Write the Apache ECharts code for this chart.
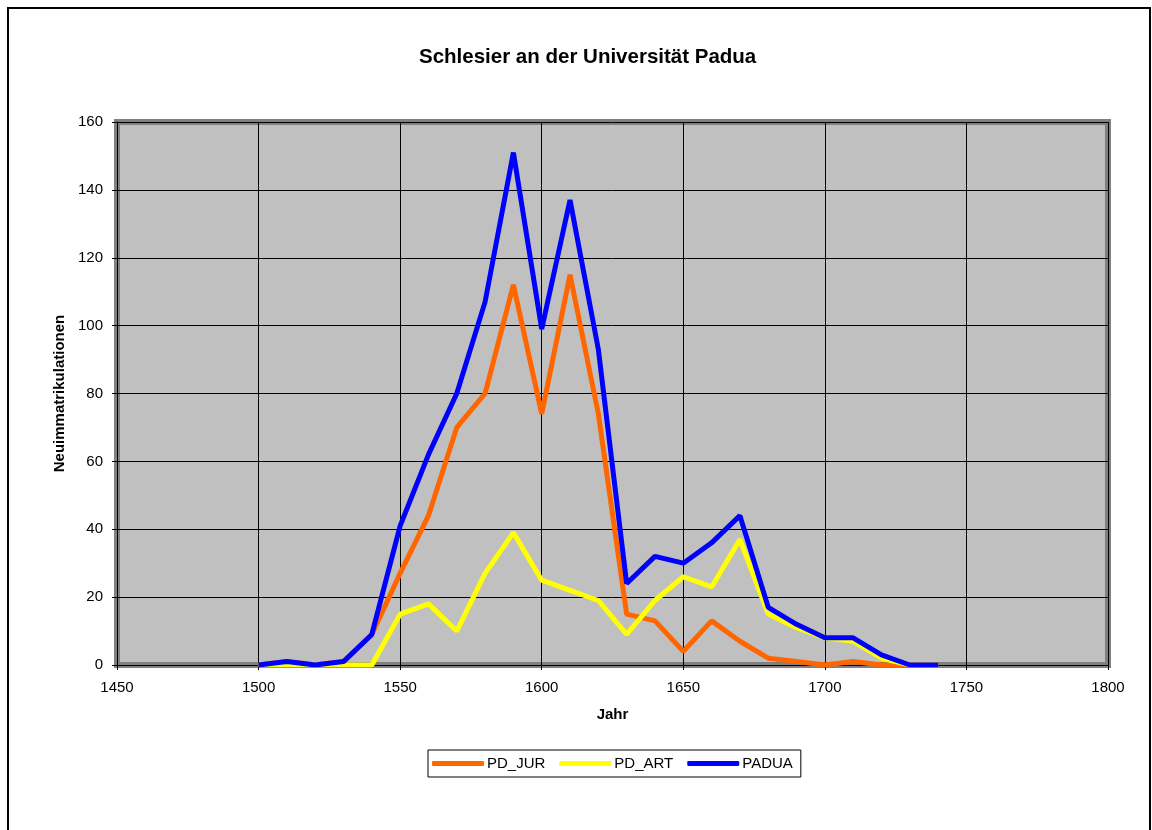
<!DOCTYPE html>
<html lang="de">
<head>
    <meta charset="UTF-8" />
    <title>Schlesier an der Universität Padua</title>
    <script src="https://cdn.jsdelivr.net/npm/echarts@6/dist/echarts.min.js"></script>
    <style>
        html, body { margin: 0; padding: 0; background: #fff; }
    </style>
</head>
<body>
    <div id="chart" style="width:1152px;height:830px;"></div>
    <script type="text/javascript">
        // Jahrzehnte 1500 - 1740
        var jahre = [1500, 1510, 1520, 1530, 1540, 1550, 1560, 1570, 1580, 1590, 1600, 1610, 1620,
            1630, 1640, 1650, 1660, 1670, 1680, 1690, 1700, 1710, 1720, 1730, 1740];
        var pdJur = [0, 1, 0, 1, 9, 27, 44, 70, 80, 112, 74, 115, 74, 15, 13, 4, 13, 7, 2, 1, 0, 1, 0, 0, 0];
        var pdArt = [0, 0, 0, 0, 0, 15, 18, 10, 27, 39, 25, 22, 19, 9, 19, 26, 23, 37, 15, 11, 8, 7, 2, 0, 0];
        var padua = [0, 1, 0, 1, 9, 41, 62, 80, 107, 151, 99, 137, 93, 24, 32, 30, 36, 44, 17, 12, 8, 8, 3, 0, 0];

        function paare(werte) {
            return jahre.map(function (j, i) { return [j, werte[i]]; });
        }

        var chart = echarts.init(document.getElementById('chart'));
        var font = 'Liberation Sans, Arial, sans-serif';
        var option = {
            animation: false,
            textStyle: { fontFamily: font },
            graphic: [{
                type: 'rect',
                shape: { x: 8, y: 8, width: 1142, height: 830 },
                style: { fill: 'none', stroke: '#000', lineWidth: 2 }
            }],
            title: {
                text: 'Schlesier an der Universität Padua',
                left: 414,
                top: 42,
                textStyle: { fontSize: 20.5, fontWeight: 'bold', color: '#000', fontFamily: font }
            },
            legend: {
                left: 428,
                top: 750,
                icon: 'roundRect',
                itemWidth: 52,
                itemHeight: 5,
                itemGap: 14,
                padding: [6, 8, 6, 4],
                borderColor: '#000',
                borderWidth: 1,
                textStyle: { fontSize: 15, color: '#000', fontFamily: font, padding: [0, 0, 0, -2] },
                data: ['PD_JUR', 'PD_ART', 'PADUA']
            },
            grid: {
                left: 117,
                right: 44,
                top: 122,
                bottom: 165,
                show: true,
                backgroundColor: '#C0C0C0',
                borderColor: '#808080',
                borderWidth: 6
            },
            xAxis: {
                type: 'value',
                min: 1450,
                max: 1800,
                interval: 50,
                name: 'Jahr',
                nameLocation: 'middle',
                nameGap: 42,
                nameTextStyle: { fontSize: 15, fontWeight: 'bold', color: '#000' },
                axisLine: { show: true, lineStyle: { color: '#000', width: 1 } },
                axisTick: { show: true, length: 5, lineStyle: { color: '#000' } },
                axisLabel: { fontSize: 15, color: '#000', margin: 15, formatter: function (v) { return String(v); } },
                splitLine: { show: true, lineStyle: { color: '#000', width: 1 } }
            },
            yAxis: {
                type: 'value',
                min: 0,
                max: 160,
                interval: 20,
                name: 'Neuimmatrikulationen',
                nameLocation: 'middle',
                nameGap: 47,
                nameTextStyle: { fontSize: 15, fontWeight: 'bold', color: '#000' },
                axisLine: { show: true, lineStyle: { color: '#000', width: 1 } },
                axisTick: { show: true, length: 5, lineStyle: { color: '#000' } },
                axisLabel: { fontSize: 15, color: '#000', margin: 14 },
                splitLine: { show: true, lineStyle: { color: '#000', width: 1 } }
            },
            series: [{
                name: 'PD_JUR',
                type: 'line',
                data: paare(pdJur),
                color: '#FF6600'
            }, {
                name: 'PD_ART',
                type: 'line',
                data: paare(pdArt),
                color: '#FFFF00'
            }, {
                name: 'PADUA',
                type: 'line',
                data: paare(padua),
                color: '#0000FF'
            }]
        };

        option.series.forEach(function (s) {
            s.symbol = 'none';
            s.lineStyle = { width: 5, color: s.color };
        });

        chart.setOption(option);
    </script>
</body>
</html>
